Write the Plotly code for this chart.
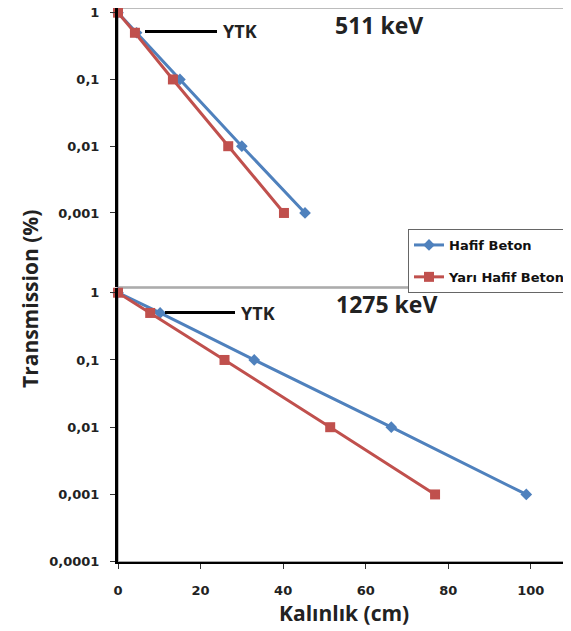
import plotly.graph_objects as go

# Data
x_511_hafif = [0, 4.5, 15, 30, 45.3]
y_511_hafif = [1, 0.5, 0.1, 0.01, 0.001]
x_511_yari = [0, 4.1, 13.3, 26.7, 40.2]
y_511_yari = [1, 0.5, 0.1, 0.01, 0.001]

x_1275_hafif = [0, 10.2, 33, 66.2, 98.9]
y_1275_hafif = [1, 0.5, 0.1, 0.01, 0.001]
x_1275_yari = [0, 7.8, 25.8, 51.4, 76.8]
y_1275_yari = [1, 0.5, 0.1, 0.01, 0.001]

ytick_top = [1, 0.1, 0.01, 0.001]
ytick_top_text = ["1", "0,1", "0,01", "0,001"]
ytick_bot = [1, 0.1, 0.01, 0.001, 0.0001]
ytick_bot_text = ["1", "0,1", "0,01", "0,001", "0,0001"]
xtick_vals = [0, 20, 40, 60, 80, 100]

BLUE = "#4F81BD"
RED = "#C0504D"
FONT = "Open Sans"
TFONT = "DejaVu Sans"
OFF = 8  # page body margin
W, H = 571 - OFF, 631 - OFF


def px_y(p):
    return 1 - (p - OFF) / H


def px_x(p):
    return (p - OFF) / W


fig = go.Figure()

for xs, ys, name, col, sym, sz, xa, ya, show in [
    (x_511_hafif, y_511_hafif, "Hafif Beton", BLUE, "diamond", 9, "x", "y", True),
    (x_511_yari, y_511_yari, "Yarı Hafif Beton", RED, "square", 10, "x", "y", True),
    (x_1275_hafif, y_1275_hafif, "Hafif Beton", BLUE, "diamond", 9, "x2", "y2", False),
    (x_1275_yari, y_1275_yari, "Yarı Hafif Beton", RED, "square", 10, "x2", "y2", False),
]:
    fig.add_trace(go.Scatter(
        x=xs, y=ys, mode="lines+markers", name=name, legendgroup=name,
        line=dict(color=col, width=3),
        marker=dict(symbol=sym, size=sz, color=col),
        xaxis=xa, yaxis=ya, showlegend=show, cliponaxis=False,
    ))

xdom = [px_x(118), px_x(568)]
tickfont = dict(family=TFONT, size=13, color="#222222", weight="bold")

fig.update_layout(
    width=W, height=H,
    margin=dict(l=0, r=0, t=0, b=0),
    paper_bgcolor="white", plot_bgcolor="white",
    font=dict(family=FONT),
    xaxis=dict(domain=xdom, range=[0, 109], anchor="y", showticklabels=False,
               showline=False, showgrid=False, zeroline=False, ticks=""),
    yaxis=dict(domain=[px_y(287), 1.0], type="log", range=[-4.109, 0.07],
               anchor="x", tickvals=ytick_top, ticktext=ytick_top_text,
               showline=True, linecolor="black", linewidth=3,
               ticks="outside", ticklen=5, tickwidth=1, tickcolor="#333",
               tickfont=tickfont, showgrid=False, zeroline=False,
               ticklabelstandoff=8, automargin=False, ticklabeloverflow="allow"),
    xaxis2=dict(domain=xdom, range=[0, 109], anchor="y2", tickvals=xtick_vals,
                showline=True, linecolor="black", linewidth=2,
                ticks="outside", ticklen=5, tickwidth=1, tickcolor="#333",
                tickfont=tickfont, showgrid=False, zeroline=False,
                ticklabelstandoff=11, automargin=False, ticklabeloverflow="allow"),
    yaxis2=dict(domain=[px_y(561.7), px_y(288)], type="log", range=[-4, 0.07],
                anchor="x2", tickvals=ytick_bot, ticktext=ytick_bot_text,
                showline=True, linecolor="black", linewidth=3,
                ticks="outside", ticklen=5, tickwidth=1, tickcolor="#333",
                tickfont=tickfont, showgrid=False, zeroline=False,
                ticklabelstandoff=8, automargin=False, ticklabeloverflow="allow"),
    legend=dict(x=px_x(408), y=px_y(229), xanchor="left", yanchor="top",
                bgcolor="white", bordercolor="#666", borderwidth=1,
                font=dict(family=TFONT, size=13, color="#111", weight="bold"),
                traceorder="grouped", tracegroupgap=12, itemwidth=30),
)

# gray plot borders
for xr, yr in [("x domain", "y domain"), ("x2 domain", "y2 domain")]:
    fig.add_shape(type="rect", xref=xr, yref=yr, x0=0, x1=1, y0=0, y1=1,
                  line=dict(color="#A6A6A6", width=1.5), layer="below")

# YTK markers
fig.add_shape(type="line", xref="paper", yref="paper",
              x0=px_x(145), x1=px_x(217), y0=px_y(31.5), y1=px_y(31.5),
              line=dict(color="black", width=3))
fig.add_shape(type="line", xref="paper", yref="paper",
              x0=px_x(165), x1=px_x(235), y0=px_y(312.5), y1=px_y(312.5),
              line=dict(color="black", width=3))

ann = [
    dict(text="YTK", x=px_x(221), y=px_y(31.5), xanchor="left", size=18),
    dict(text="YTK", x=px_x(239), y=px_y(312.5), xanchor="left", size=18),
    dict(text="511 keV", x=px_x(379), y=px_y(25), xanchor="center", size=23),
    dict(text="1275 keV", x=px_x(386), y=px_y(303.5), xanchor="center", size=23),
    dict(text="Kalınlık (cm)", x=px_x(344), y=px_y(613), xanchor="center", size=21),
]
for a in ann:
    fig.add_annotation(text=a["text"], x=a["x"], y=a["y"], xref="paper", yref="paper",
                       xanchor=a["xanchor"], yanchor="middle", showarrow=False,
                       font=dict(family=FONT, size=a["size"], color="#222", weight="bold"))
fig.add_annotation(text="Transmission (%)", x=px_x(30), y=px_y(299), xref="paper",
                   yref="paper", textangle=-90, showarrow=False, xanchor="center",
                   yanchor="middle",
                   font=dict(family=FONT, size=21, color="#222", weight="bold"))

fig.write_html("out.html")
